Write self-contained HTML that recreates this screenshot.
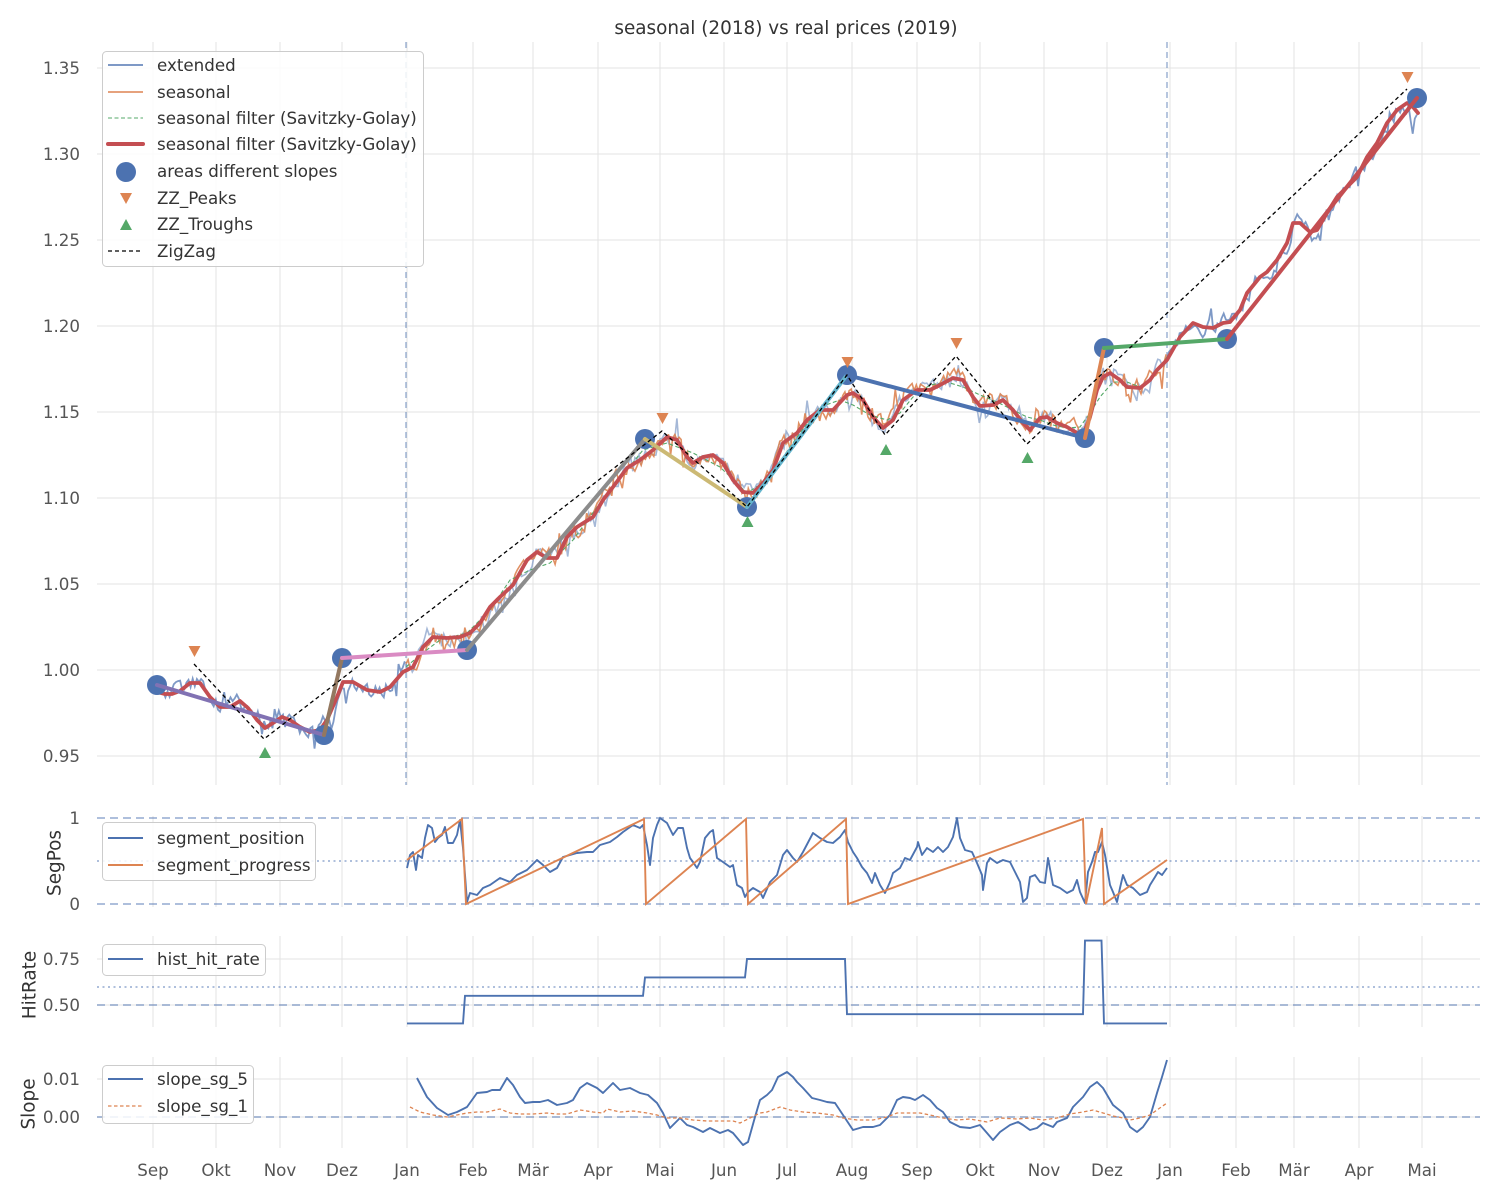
<!DOCTYPE html>
<html><head><meta charset="utf-8"><style>
html,body{margin:0;padding:0;background:#fff;}
svg{display:block;font-family:"DejaVu Sans","Liberation Sans",sans-serif;}
</style></head><body>
<svg id="s" width="1500" height="1200" viewBox="0 0 1500 1200" xmlns="http://www.w3.org/2000/svg">
<rect width="1500" height="1200" fill="#fff"/>
<!-- grids -->
<g stroke="#e3e3e3" stroke-width="1" fill="none">
<path d="M153 42V785M216 42V785M280 42V785M342 42V785M407 42V785M473 42V785M533 42V785M598 42V785M660 42V785M724 42V785M787 42V785M852 42V785M917 42V785M980 42V785M1044 42V785M1107 42V785M1170 42V785M1236 42V785M1294 42V785M1359 42V785M1422 42V785"/>
<path d="M97 68H1480M97 154H1480M97 240H1480M97 326H1480M97 412H1480M97 498H1480M97 584H1480M97 670H1480M97 756H1480"/>
<path d="M153 816V907M216 816V907M280 816V907M342 816V907M407 816V907M473 816V907M533 816V907M598 816V907M660 816V907M724 816V907M787 816V907M852 816V907M917 816V907M980 816V907M1044 816V907M1107 816V907M1170 816V907M1236 816V907M1294 816V907M1359 816V907M1422 816V907"/>
<path d="M153 936V1027M216 936V1027M280 936V1027M342 936V1027M407 936V1027M473 936V1027M533 936V1027M598 936V1027M660 936V1027M724 936V1027M787 936V1027M852 936V1027M917 936V1027M980 936V1027M1044 936V1027M1107 936V1027M1170 936V1027M1236 936V1027M1294 936V1027M1359 936V1027M1422 936V1027"/>
<path d="M97 959H1480M97 1005H1480"/>
<path d="M153 1057V1148M216 1057V1148M280 1057V1148M342 1057V1148M407 1057V1148M473 1057V1148M533 1057V1148M598 1057V1148M660 1057V1148M724 1057V1148M787 1057V1148M852 1057V1148M917 1057V1148M980 1057V1148M1044 1057V1148M1107 1057V1148M1170 1057V1148M1236 1057V1148M1294 1057V1148M1359 1057V1148M1422 1057V1148"/>
<path d="M97 1079H1480M97 1117H1480"/>
</g>

<!-- main vertical dashed lines -->
<g stroke="#4c72b0" stroke-opacity="0.5" stroke-width="1.6" stroke-dasharray="6,4">
<line x1="406" y1="42" x2="406" y2="785"/>
<line x1="1167" y1="42" x2="1167" y2="785"/>
</g>

<!-- thin noisy lines -->
<polyline id="ext1" fill="none" stroke="#4c72b0" stroke-opacity="0.72" stroke-width="1.8" points="157,692 406,670"/>
<polyline id="ext2" fill="none" stroke="#4c72b0" stroke-opacity="0.72" stroke-width="1.8" points="1167,360 1418,110"/>
<polyline id="ext3" fill="none" stroke="#4c72b0" stroke-opacity="0.5" stroke-width="1.6" points="406,670 1167,360"/>
<polyline id="seas" fill="none" stroke="#dd8452" stroke-opacity="0.9" stroke-width="1.6" points="406,670 1167,360"/>
<polyline id="gfilt" fill="none" stroke="#55a868" stroke-width="1.1" stroke-dasharray="4,2.5" points="406,667 420,655 440,640 467,633 490,610 510,580 530,570 550,563 573,540 600,503 627,470 643,450 667,443 693,453 720,467 747,493 767,480 800,433 820,407 840,400 853,405 870,415 887,420 900,413 913,397 930,385 947,382 963,387 980,395 997,402 1013,410 1027,417 1040,420 1053,425 1067,428 1080,427 1090,413 1100,397 1113,382 1127,382 1140,387 1153,377 1167,357"/>

<!-- red smoothed -->
<polyline id="red" fill="none" stroke="#c44e52" stroke-width="3.8" stroke-linejoin="round" stroke-linecap="round" points="157,692 165,694 172,694 180,691 190,683 200,683 210,697 220,707 230,707 240,701 248,708 257,720 265,728 273,723 282,717 290,720 300,727 310,732 320,730 327,720 337,697 343,682 353,682 367,690 380,692 390,687 403,672 413,667 423,647 433,637 447,638 460,637 470,633 480,623 490,607 500,597 513,585 527,560 537,552 547,558 557,558 567,537 577,527 593,517 603,500 613,487 627,468 640,460 653,450 667,437 677,440 687,457 693,463 703,457 713,455 723,463 733,480 743,492 753,493 763,483 773,470 783,443 797,433 807,420 820,410 833,410 847,395 853,393 863,400 873,417 883,428 893,420 903,400 917,390 930,390 940,385 953,378 963,380 973,397 980,406 993,405 1003,400 1013,410 1023,423 1030,430 1040,418 1047,417 1057,423 1067,427 1077,433 1083,435 1090,417 1097,390 1103,377 1110,373 1120,380 1127,387 1140,388 1150,380 1157,370 1167,360 1180,337 1193,323 1203,327 1213,328 1223,323 1230,322 1240,310 1247,293 1260,277 1267,272 1277,260 1287,243 1293,223 1300,223 1310,232 1317,230 1327,213 1337,197 1347,187 1357,177 1367,157 1377,143 1387,123 1397,110 1407,103 1413,107 1418,113"/>

<!-- dots -->
<g fill="#4c72b0">
<circle cx="157" cy="685" r="10"/>
<circle cx="324" cy="735" r="10"/>
<circle cx="342" cy="658" r="10"/>
<circle cx="467" cy="650" r="10"/>
<circle cx="645" cy="439" r="10"/>
<circle cx="747" cy="507" r="10"/>
<circle cx="847" cy="375" r="10"/>
<circle cx="1085" cy="438" r="10"/>
<circle cx="1104" cy="348" r="10"/>
<circle cx="1227" cy="339" r="10"/>
<circle cx="1417" cy="98" r="10"/>
</g>

<!-- segment lines -->
<g stroke-width="4" stroke-linecap="round" fill="none">
<line x1="157" y1="685" x2="324" y2="735" stroke="#8172b3"/>
<line x1="324" y1="735" x2="342" y2="658" stroke="#937860"/>
<line x1="342" y1="658" x2="467" y2="650" stroke="#da8bc3"/>
<line x1="467" y1="650" x2="645" y2="439" stroke="#8c8c8c"/>
<line x1="645" y1="439" x2="747" y2="507" stroke="#ccb974"/>
<line x1="747" y1="507" x2="847" y2="375" stroke="#64b5cd"/>
<line x1="847" y1="375" x2="1085" y2="438" stroke="#4c72b0"/>
<line x1="1085" y1="438" x2="1104" y2="348" stroke="#dd8452"/>
<line x1="1104" y1="348" x2="1227" y2="339" stroke="#55a868"/>
<line x1="1227" y1="339" x2="1417" y2="98" stroke="#c44e52"/>
</g>

<!-- zigzag -->
<polyline fill="none" stroke="#000" stroke-width="1.3" stroke-dasharray="4,3" points="194,664 264,739 662,431 747,507 847,375 885,435 956,356 1027,444 1407,89"/>

<!-- peaks / troughs -->
<g fill="#dd8452">
<polygon points="188.5,646 200.5,646 194.5,657"/>
<polygon points="656.5,413 668.5,413 662.5,424"/>
<polygon points="841.5,357 853.5,357 847.5,368"/>
<polygon points="950.5,338 962.5,338 956.5,349"/>
<polygon points="1401.5,72 1413.5,72 1407.5,83"/>
</g>
<g fill="#55a868">
<polygon points="259,758 271,758 265,747"/>
<polygon points="741.5,527 753.5,527 747.5,516"/>
<polygon points="880,455 892,455 886,444"/>
<polygon points="1021.5,463 1033.5,463 1027.5,452"/>
</g>

<!-- main legend -->
<rect x="102.5" y="51.5" width="321" height="215" rx="4" fill="#fff" fill-opacity="0.85" stroke="#cccccc" stroke-width="1"/>
<line x1="108" y1="65" x2="143" y2="65" stroke="#4c72b0" stroke-opacity="0.72" stroke-width="2"/>
<line x1="108" y1="92" x2="143" y2="92" stroke="#dd8452" stroke-width="1.6"/>
<line x1="108" y1="118" x2="143" y2="118" stroke="#55a868" stroke-width="1.1" stroke-dasharray="4,2.5"/>
<line x1="108" y1="144" x2="143" y2="144" stroke="#c44e52" stroke-width="4" stroke-linecap="round"/>
<circle cx="126" cy="172" r="10" fill="#4c72b0"/>
<polygon points="120,193 132,193 126,204" fill="#dd8452"/>
<polygon points="120,230 132,230 126,219" fill="#55a868"/>
<line x1="108" y1="251" x2="143" y2="251" stroke="#000" stroke-width="1.3" stroke-dasharray="4,3"/>
<g font-size="16.7" fill="#333">
<text x="157" y="71">extended</text>
<text x="157" y="98">seasonal</text>
<text x="157" y="124">seasonal filter (Savitzky-Golay)</text>
<text x="157" y="150">seasonal filter (Savitzky-Golay)</text>
<text x="157" y="177">areas different slopes</text>
<text x="157" y="204">ZZ_Peaks</text>
<text x="157" y="230">ZZ_Troughs</text>
<text x="157" y="257">ZigZag</text>
</g>

<!-- title -->
<text x="786" y="34" font-size="18.4" fill="#333" text-anchor="middle">seasonal (2018) vs real prices (2019)</text>

<!-- main y ticks -->
<g font-size="16.7" fill="#555" text-anchor="end">
<text x="80" y="74">1.35</text>
<text x="80" y="160">1.30</text>
<text x="80" y="246">1.25</text>
<text x="80" y="332">1.20</text>
<text x="80" y="418">1.15</text>
<text x="80" y="504">1.10</text>
<text x="80" y="590">1.05</text>
<text x="80" y="676">1.00</text>
<text x="80" y="762">0.95</text>
</g>

<!-- SegPos subplot -->
<g stroke="#4c72b0" stroke-opacity="0.6" stroke-width="1.6" fill="none">
<line x1="97" y1="818" x2="1480" y2="818" stroke-dasharray="8,5"/>
<line x1="97" y1="904" x2="1480" y2="904" stroke-dasharray="8,5"/>
<line x1="97" y1="861" x2="1480" y2="861" stroke-dasharray="2,3.5"/>
</g>
<polyline fill="none" stroke="#4c72b0" stroke-width="1.9" stroke-linejoin="round" points="407,868 410,855 413,852 416,870 418,855 422,858 425,838 428,825 432,828 435,842 438,838 442,835 445,827 448,843 453,843 457,835 460,820 463,848 467,902 470,893 477,895 483,888 490,885 500,878 510,882 517,875 527,870 537,860 543,865 550,872 557,868 563,857 570,855 577,853 587,852 593,852 600,845 610,842 617,837 623,832 633,825 640,828 643,825 647,845 650,865 653,838 657,825 660,818 667,823 673,835 678,828 683,828 687,848 690,858 693,862 697,868 700,862 705,838 710,832 713,830 717,858 723,862 730,867 733,865 737,885 742,888 745,897 748,892 753,888 760,892 763,898 770,882 777,875 783,855 787,850 793,858 797,862 803,852 813,833 820,838 827,842 833,843 840,837 845,830 848,842 853,852 857,858 862,867 867,873 872,883 875,873 880,885 885,893 890,882 893,873 900,868 905,858 910,860 917,847 918,842 922,855 927,848 933,852 938,847 943,852 948,847 953,837 957,818 960,838 965,850 972,852 977,863 982,875 983,890 987,863 990,858 997,863 1003,860 1010,862 1015,872 1020,882 1023,902 1027,898 1030,877 1035,875 1040,882 1045,883 1048,858 1053,885 1060,888 1067,893 1073,890 1077,880 1080,892 1085,903 1088,872 1092,862 1095,852 1098,852 1102,842 1105,855 1110,885 1113,892 1117,902 1120,888 1123,875 1127,885 1133,888 1140,895 1147,892 1150,885 1155,877 1158,872 1162,875 1167,868"/>
<polyline fill="none" stroke="#dd8452" stroke-width="1.9" points="407,860 462,819 466,904 644,819 646,904 746,819 748,904 846,819 848,904 1083,819 1086,904 1102,828 1104,904 1167,860"/>
<rect x="102.5" y="822.5" width="213" height="58" rx="4" fill="#fff" fill-opacity="0.85" stroke="#cccccc"/>
<line x1="108" y1="838" x2="143" y2="838" stroke="#4c72b0" stroke-width="2"/>
<line x1="108" y1="865" x2="143" y2="865" stroke="#dd8452" stroke-width="2"/>
<g font-size="16.7" fill="#333">
<text x="157" y="844">segment_position</text>
<text x="157" y="871">segment_progress</text>
</g>
<g font-size="16.7" fill="#555" text-anchor="end">
<text x="80" y="824">1</text>
<text x="80" y="910">0</text>
</g>
<text transform="translate(60.5,863) rotate(-90)" font-size="18.4" fill="#333" text-anchor="middle">SegPos</text>

<!-- HitRate subplot -->
<g stroke="#4c72b0" stroke-opacity="0.6" stroke-width="1.6" fill="none">
<line x1="97" y1="1005" x2="1480" y2="1005" stroke-dasharray="8,5"/>
<line x1="97" y1="987" x2="1480" y2="987" stroke-dasharray="2,3.5"/>
</g>
<polyline fill="none" stroke="#4c72b0" stroke-width="1.9" points="407,1023.4 463,1023.4 465,995.8 643,995.8 645,977.4 745,977.4 747,959 845,959 847,1014.2 1083,1014.2 1085,940.6 1101.5,940.6 1104,1023.4 1167,1023.4"/>
<rect x="102.5" y="944.5" width="163" height="31" rx="4" fill="#fff" fill-opacity="0.85" stroke="#cccccc"/>
<line x1="108" y1="959" x2="143" y2="959" stroke="#4c72b0" stroke-width="2"/>
<text x="157" y="965" font-size="16.7" fill="#333">hist_hit_rate</text>
<g font-size="16.7" fill="#555" text-anchor="end">
<text x="80" y="965">0.75</text>
<text x="80" y="1011">0.50</text>
</g>
<text transform="translate(35.5,985) rotate(-90)" font-size="18.4" fill="#333" text-anchor="middle">HitRate</text>

<!-- Slope subplot -->
<line x1="97" y1="1117" x2="1480" y2="1117" stroke="#4c72b0" stroke-opacity="0.6" stroke-width="1.6" stroke-dasharray="8,5"/>
<polyline fill="none" stroke="#4c72b0" stroke-width="1.9" stroke-linejoin="round" points="417,1078 427,1097 437,1108 448,1115 457,1112 467,1107 477,1093 487,1092 492,1090 500,1090 507,1078 513,1085 520,1097 525,1103 533,1102 540,1102 548,1100 557,1105 567,1103 573,1100 580,1088 587,1083 597,1088 603,1093 613,1083 620,1090 630,1088 640,1093 648,1095 657,1103 663,1113 670,1128 680,1118 687,1125 693,1127 703,1132 710,1128 720,1133 728,1130 733,1133 743,1145 748,1142 755,1117 760,1100 767,1095 772,1090 778,1077 787,1072 793,1077 797,1082 803,1088 812,1098 820,1100 827,1102 835,1103 843,1115 853,1130 863,1127 873,1127 880,1125 890,1115 897,1100 903,1097 910,1098 915,1100 923,1095 930,1100 937,1108 943,1112 950,1122 960,1127 970,1128 980,1125 987,1133 993,1140 1000,1132 1010,1125 1018,1122 1023,1125 1030,1130 1037,1128 1043,1123 1053,1127 1057,1122 1067,1118 1073,1107 1083,1097 1090,1087 1097,1082 1103,1088 1113,1105 1123,1113 1130,1127 1137,1132 1143,1127 1150,1117 1157,1093 1162,1077 1167,1060"/>
<polyline fill="none" stroke="#dd8452" stroke-width="1.3" stroke-dasharray="3.5,2.5" points="410,1107 420,1112 433,1115 447,1117 457,1115 467,1113 477,1112 487,1112 500,1109 510,1113 520,1114 533,1114 547,1113 557,1114 567,1114 580,1110 593,1112 603,1113 607,1109 620,1112 633,1111 647,1113 657,1115 667,1118 680,1118 693,1120 707,1121 720,1121 733,1121 740,1123 750,1118 760,1113 767,1112 780,1107 790,1110 803,1112 817,1113 833,1115 843,1118 857,1120 873,1120 887,1117 897,1113 910,1113 920,1113 930,1115 943,1118 957,1120 970,1119 987,1122 1000,1118 1017,1119 1030,1118 1043,1120 1057,1118 1070,1114 1083,1112 1093,1110 1103,1113 1113,1116 1123,1118 1130,1120 1140,1118 1150,1115 1157,1110 1167,1103"/>
<rect x="102.5" y="1065.5" width="151" height="58" rx="4" fill="#fff" fill-opacity="0.85" stroke="#cccccc"/>
<line x1="108" y1="1079" x2="143" y2="1079" stroke="#4c72b0" stroke-width="2"/>
<line x1="108" y1="1106" x2="143" y2="1106" stroke="#dd8452" stroke-width="1.3" stroke-dasharray="3.5,2.5"/>
<g font-size="16.7" fill="#333">
<text x="157" y="1085">slope_sg_5</text>
<text x="157" y="1112">slope_sg_1</text>
</g>
<g font-size="16.7" fill="#555" text-anchor="end">
<text x="80" y="1085">0.01</text>
<text x="80" y="1123">0.00</text>
</g>
<text transform="translate(34.5,1104) rotate(-90)" font-size="18.4" fill="#333" text-anchor="middle">Slope</text>

<!-- x tick labels -->
<g font-size="16.7" fill="#555" text-anchor="middle">
<text x="153" y="1176">Sep</text>
<text x="216" y="1176">Okt</text>
<text x="280" y="1176">Nov</text>
<text x="342" y="1176">Dez</text>
<text x="407" y="1176">Jan</text>
<text x="473" y="1176">Feb</text>
<text x="533" y="1176">Mär</text>
<text x="598" y="1176">Apr</text>
<text x="660" y="1176">Mai</text>
<text x="724" y="1176">Jun</text>
<text x="787" y="1176">Jul</text>
<text x="852" y="1176">Aug</text>
<text x="917" y="1176">Sep</text>
<text x="980" y="1176">Okt</text>
<text x="1044" y="1176">Nov</text>
<text x="1107" y="1176">Dez</text>
<text x="1170" y="1176">Jan</text>
<text x="1236" y="1176">Feb</text>
<text x="1294" y="1176">Mär</text>
<text x="1359" y="1176">Apr</text>
<text x="1422" y="1176">Mai</text>
</g>
</svg>
<script>
(function(){
function R(s){return function(){s=(s*16807)%2147483647;return (s-1)/2147483646;};}
var P=document.getElementById('red').getAttribute('points').trim().split(/\s+/).map(function(p){var a=p.split(',');return [parseFloat(a[0]),parseFloat(a[1])];});
function ip(x){for(var i=1;i<P.length;i++){if(x<=P[i][0]){var a=P[i-1],b=P[i],t=(x-a[0])/((b[0]-a[0])||1);return a[1]+t*(b[1]-a[1]);}}return P[P.length-1][1];}
function noisy(x0,x1,st,amp,sp,seed){var r=R(seed),n=0,o=[];for(var x=x0;x<=x1+0.01;x+=st){n=0.6*n+(r()-0.5)*amp;var k=r()<sp?(r()-0.5)*amp*2.6:0;o.push(x.toFixed(1)+','+(ip(x)+n+k).toFixed(1));}return o.join(' ');}
document.getElementById('ext1').setAttribute('points',noisy(157,406,2.1,15,0.12,12345));
document.getElementById('ext2').setAttribute('points',noisy(1167,1418,2.1,15,0.12,54321));
document.getElementById('ext3').setAttribute('points',noisy(406,1167,2.1,13,0.1,999));
document.getElementById('seas').setAttribute('points',noisy(406,1167,2.1,14,0.12,777));
})();
</script>
</body></html>
